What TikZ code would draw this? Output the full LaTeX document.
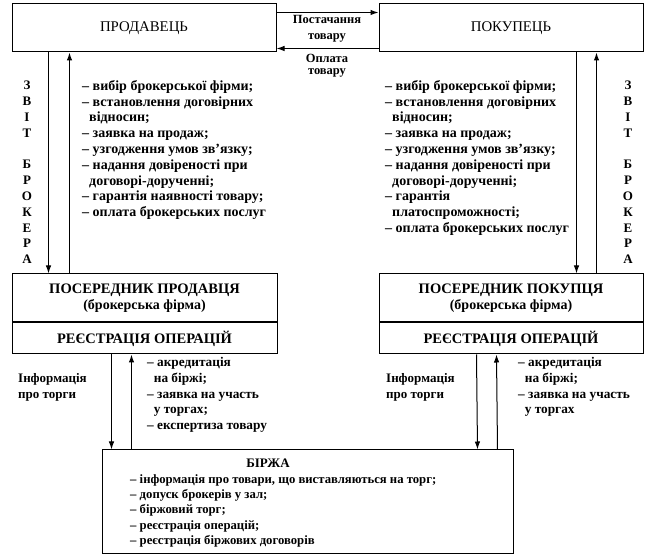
\documentclass[tikz,border=0pt]{standalone}
\usepackage{fontspec}
\setmainfont{Liberation Serif}
\usetikzlibrary{arrows.meta, positioning, calc}

\begin{document}
\begin{tikzpicture}[x=1pt, y=-1pt, >={Latex[length=8pt,width=5.5pt]},
  box/.style={draw, line width=1pt, inner sep=0pt, align=center,
    font=\fontsize{14.5}{16}\selectfont\bfseries},
  txt/.style={anchor=north west, inner sep=0pt, align=left,
    font=\fontsize{14}{15.8}\selectfont\bfseries},
  lett/.style={anchor=north, inner sep=0pt, align=center,
    font=\fontsize{13}{15.8}\selectfont\bfseries},
  arr/.style={->, line width=1pt}]
  \useasboundingbox[fill=white] (0,0) rectangle (649,556);

  % participants
  \node[box, minimum width=264pt, minimum height=48pt,
    font=\fontsize{14.8}{16}\selectfont] (seller) at (144,28) {ПРОДАВЕЦЬ};
  \node[box, minimum width=264pt, minimum height=48pt,
    font=\fontsize{14.8}{16}\selectfont] (buyer) at (511,28) {ПОКУПЕЦЬ};

  % brokers
  \node[box, minimum width=265pt, minimum height=48pt] (sbrk) at (144.5,298)
    {ПОСЕРЕДНИК ПРОДАВЦЯ\\{\fontsize{14}{15}\selectfont(брокерська фірма)}};
  \node[box, minimum width=265pt, minimum height=31pt, below=0pt of sbrk] (sreg)
    {РЕЄСТРАЦІЯ ОПЕРАЦІЙ};
  \node[box, minimum width=264pt, minimum height=48pt] (bbrk) at (511,298)
    {ПОСЕРЕДНИК ПОКУПЦЯ\\{\fontsize{14}{15}\selectfont(брокерська фірма)}};
  \node[box, minimum width=264pt, minimum height=31pt, below=0pt of bbrk] (breg)
    {РЕЄСТРАЦІЯ ОПЕРАЦІЙ};

  % exchange
  \node[box, minimum width=411pt, minimum height=103pt] (exch) at (307.5,501.5) {};
  \node[lett, anchor=center] (exttl) at (268,463) {БІРЖА};
  \node[txt, font=\fontsize{12.7}{15.4}\selectfont\bfseries] (exlst) at (130,474)
    {– інформація про товари, що виставляються на торг;\\
    – допуск брокерів у зал;\\– біржовий торг;\\– реєстрація операцій;\\
    – реєстрація біржових договорів};

  % goods and payment
  \draw[arr] ([yshift=-9pt]seller.north east) -- ([yshift=-9pt]buyer.north west);
  \draw[arr] ([yshift=4pt]buyer.south west) -- ([yshift=4pt]seller.south east);
  \node[lett, font=\fontsize{12.5}{15.8}\selectfont\bfseries] (goods) at (327,15)
    {Постачання\\товару};
  \node[lett, font=\fontsize{12.5}{12.5}\selectfont\bfseries] (pay) at (327,54)
    {Оплата\\товару};

  % seller side
  \draw[arr] ([xshift=37pt]seller.south west) -- ([xshift=37pt]sbrk.north west);
  \draw[arr] ([xshift=58pt]sbrk.north west) -- ([xshift=58pt]seller.south west);
  \node[lett] (srep) at (27,81) {З\\В\\І\\Т\\[15.8pt]Б\\Р\\О\\К\\Е\\Р\\А};
  \node[txt] (slst) at (82,80) {– вибір брокерської фірми;\\– встановлення договірних\\
    \ \ відносин;\\– заявка на продаж;\\– узгодження умов зв’язку;\\
    – надання довіреності при\\\ \ договорі-дорученні;\\
    – гарантія наявності товару;\\– оплата брокерських послуг};

  % buyer side
  \draw[arr] ([xshift=198pt]buyer.south west) -- ([xshift=198pt]bbrk.north west);
  \draw[arr] ([xshift=218pt]bbrk.north west) -- ([xshift=218pt]buyer.south west);
  \node[lett] (brep) at (628,81) {З\\В\\І\\Т\\[15.8pt]Б\\Р\\О\\К\\Е\\Р\\А};
  \node[txt] (blst) at (385,80) {– вибір брокерської фірми;\\– встановлення договірних\\
    \ \ відносин;\\– заявка на продаж;\\– узгодження умов зв’язку;\\
    – надання довіреності при\\\ \ договорі-дорученні;\\– гарантія\\
    \ \ платоспроможності;\\– оплата брокерських послуг};

  % brokers and exchange
  \draw[arr] ([xshift=100pt]sreg.south west) -- ([xshift=10pt]exch.north west);
  \draw[arr] ([xshift=30pt]exch.north west) -- ([xshift=120pt]sreg.south west);
  \draw[arr] ([xshift=98pt]breg.south west) -- ([xshift=-36pt]exch.north east);
  \draw[arr] ([xshift=-16pt]exch.north east) -- ([xshift=118pt]breg.south west);
  \node[txt, font=\fontsize{13}{15.8}\selectfont\bfseries] (sinf) at (18,373)
    {Інформація\\про торги};
  \node[txt, font=\fontsize{13}{15.8}\selectfont\bfseries] (binf) at (386,373)
    {Інформація\\про торги};
  \node[txt, font=\fontsize{13.3}{15.8}\selectfont\bfseries] (slow) at (147,357)
    {– акредитація\\\ \ на біржі;\\– заявка на участь\\
    \ \ у торгах;\\– експертиза товару};
  \node[txt, font=\fontsize{13.3}{15.8}\selectfont\bfseries] (blow) at (518,357)
    {– акредитація\\\ \ на біржі;\\– заявка на участь\\
    \ \ у торгах};
\end{tikzpicture}
\end{document}
